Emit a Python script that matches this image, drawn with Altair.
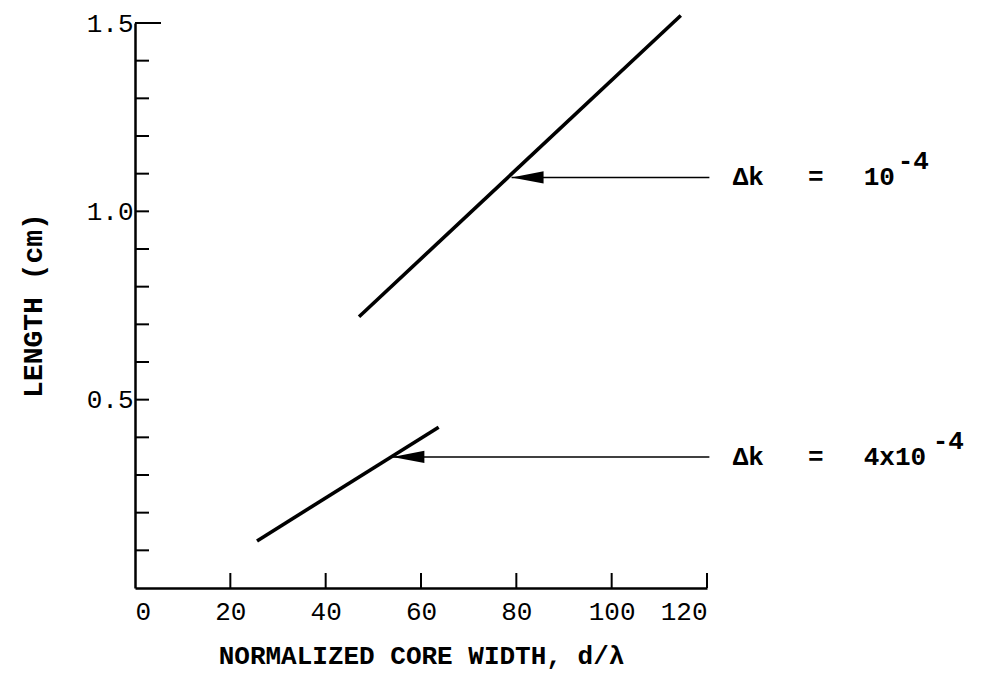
import altair as alt
import pandas as pd

# ---- data ----
x_upper = [47.0, 114.5]
y_upper = [0.72, 1.52]
x_lower = [25.6, 63.7]
y_lower = [0.125, 0.427]

arrow_tip_x = [79.0, 54.0]
arrow_tip_y = [1.09, 0.348]
arrow_tail_x = [120.5, 120.5]
label_x = [125.4, 125.4]
label_main = ["10", "4x10"]
label_exp = ["-4", "-4"]

x_tick_values = [0, 20, 40, 60, 80, 100, 120]
y_minor_ticks = [0.1, 0.2, 0.3, 0.4, 0.5, 0.6, 0.7, 0.8, 0.9, 1.0, 1.1, 1.2, 1.3, 1.4]
y_top_tick = [1.5]
y_label_values = [0.5, 1.0, 1.5]

FONT = "Liberation Mono"
W, H = 572, 565

lines_df = pd.DataFrame({
    "x": x_upper + x_lower,
    "y": y_upper + y_lower,
    "series": ["upper", "upper", "lower", "lower"],
})
arrows_df = pd.DataFrame({
    "x": arrow_tip_x, "x2": arrow_tail_x, "y": arrow_tip_y,
    "lx": label_x, "main": label_main, "exp": label_exp,
    "dk": ["\u0394k", "\u0394k"], "eq": ["=", "="],
})

xs = alt.Scale(domain=[0, 120], nice=False, zero=False)
ys = alt.Scale(domain=[0, 1.5], nice=False, zero=False)

xax = alt.Axis(values=x_tick_values, tickSize=0, labelPadding=10, grid=False,
               labelFont=FONT, labelFontSize=26, labelColor="black",
               domainColor="black", domainWidth=2.5,
               title="NORMALIZED CORE WIDTH, d/\u03bb", titleFont=FONT,
               titleFontSize=26, titleFontWeight="bold", titleColor="black",
               titleY=67, titleBaseline="middle")
yax = alt.Axis(values=y_label_values, format=".1f", tickSize=0, labelPadding=2,
               grid=False, labelFont=FONT, labelFontSize=26, labelColor="black",
               domainColor="black", domainWidth=2.5,
               title="LENGTH (cm)", titleFont=FONT, titleFontSize=28,
               titleFontWeight="bold", titleColor="black", titleAngle=270,
               titleX=-102, titleY=282, titleAlign="center", titleBaseline="middle")

lines = alt.Chart(lines_df).mark_line(color="black", strokeWidth=3.6).encode(
    x=alt.X("x:Q", scale=xs, axis=xax),
    y=alt.Y("y:Q", scale=ys, axis=yax),
    detail="series:N",
)

ytick = alt.Chart(pd.DataFrame({"v": y_minor_ticks})).mark_rule(color="black", strokeWidth=2).encode(
    y=alt.Y("v:Q", scale=ys), x=alt.value(0), x2=alt.value(14))
ytop = alt.Chart(pd.DataFrame({"v": y_top_tick})).mark_rule(color="black", strokeWidth=2).encode(
    y=alt.Y("v:Q", scale=ys), x=alt.value(0), x2=alt.value(26))
xtick = alt.Chart(pd.DataFrame({"v": x_tick_values[1:]})).mark_rule(color="black", strokeWidth=2).encode(
    x=alt.X("v:Q", scale=xs), y=alt.value(H), y2=alt.value(H - 15))

arrow_line = alt.Chart(arrows_df).mark_rule(color="black", strokeWidth=1.5).encode(
    x=alt.X("x:Q", scale=xs), x2="x2:Q", y=alt.Y("y:Q", scale=ys))
arrow_head = alt.Chart(arrows_df).mark_point(
    shape="M0,0L2,-0.38L2,0.38Z", size=1024, filled=True, color="black", opacity=1, strokeWidth=0
).encode(x=alt.X("x:Q", scale=xs), y=alt.Y("y:Q", scale=ys))

def txt(field, dx, dy=0, align="left", size=26, weight="normal", data=arrows_df):
    return alt.Chart(data).mark_text(
        align=align, baseline="middle", dx=dx, dy=dy, font=FONT, fontSize=size,
        fontWeight=weight, color="black"
    ).encode(x=alt.X("lx:Q", scale=xs), y=alt.Y("y:Q", scale=ys), text=f"{field}:N")

t_dk = txt("dk", 0, weight="bold")
t_eq = txt("eq", 83, align="center", weight="bold")
t_main = txt("main", 131, weight="bold")
t_exp1 = txt("exp", 165, dy=-16, size=26, weight="bold", data=arrows_df.iloc[[0]])
t_exp2 = txt("exp", 200, dy=-16, size=26, weight="bold", data=arrows_df.iloc[[1]])

chart = alt.layer(lines, ytick, ytop, xtick, arrow_line, arrow_head,
                  t_dk, t_eq, t_main, t_exp1, t_exp2).properties(
    width=W, height=H,
    autosize=alt.AutoSizeParams(type="none"),
    padding={"left": 135, "top": 23, "right": 275, "bottom": 108},
    background="white",
).configure_view(stroke=None)

chart.save("out.html", embed_options={"renderer": "svg", "actions": False})
